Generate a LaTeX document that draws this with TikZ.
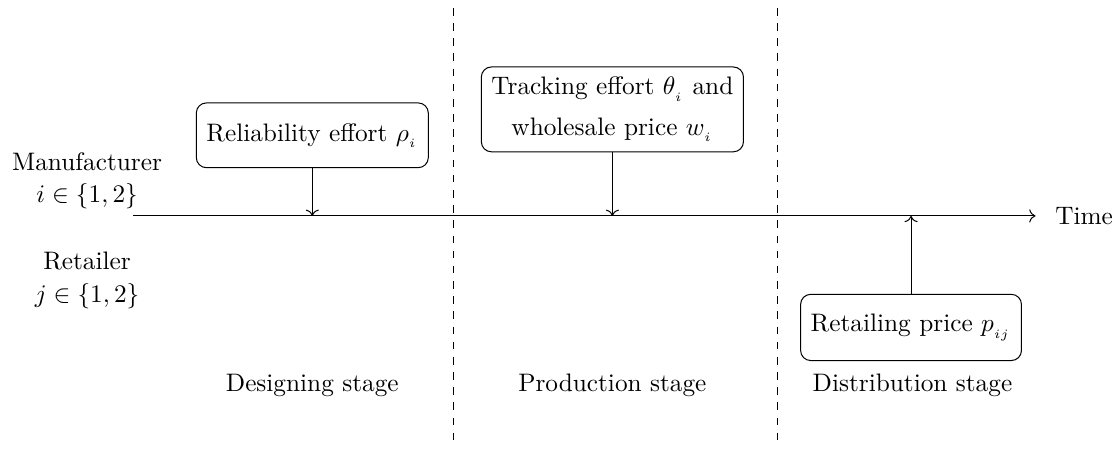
\documentclass[tikz,border=0pt]{standalone}
\usepackage{amsmath,amssymb}
\usepackage{tikz}
\usetikzlibrary{arrows.meta,positioning,calc}

\begin{document}
\begin{tikzpicture}[
    box/.style={rectangle, draw, rounded corners, align=center, inner sep=4pt},
    stage/.style={dashed},
    arrow/.style={->}
]
    \useasboundingbox (0,0) rectangle (15.55,-6.28);

    % --- Time axis ---
    \coordinate (t0) at (1.85,-3.0);
    \coordinate (t1) at (14.39,-3.0);
    \draw[arrow] (t0) -- (t1);
    \node[right=0.15cm of t1] (time) {Time};

    % --- Players ---
    \node (manu) at (1.21,-2.25) {Manufacturer};
    \node (manuset) at (1.21,-2.72) {$i\in\{1,2\}$};
    \node (ret) at (1.21,-3.63) {Retailer};
    \node (retset) at (1.21,-4.11) {$j\in\{1,2\}$};

    % --- Stage borders ---
    \coordinate (d1top) at (6.30,-0.11);
    \coordinate (d1bot) at (6.30,-6.21);
    \coordinate (d2top) at (10.81,-0.11);
    \coordinate (d2bot) at (10.81,-6.21);
    \draw[stage] (d1top) -- (d1bot);
    \draw[stage] (d2top) -- (d2bot);

    % --- Decisions ---
    \node[box, minimum width=3.22cm, minimum height=0.9cm] (rho) at (4.34,-1.88) {Reliability effort $\rho_{_i}$};
    \node[box, minimum width=3.64cm, minimum height=1.17cm] (theta) at (8.51,-1.52) {Tracking effort $\theta_{_i}$ and\\[4pt] wholesale price $w_{_i}$};
    \node[box, minimum width=3.06cm, minimum height=0.92cm] (price) at (12.66,-4.55) {Retailing price $p_{_{ij}}$};

    \draw[arrow] (rho.south) -- (rho.south |- t0);
    \draw[arrow] (theta.south) -- (theta.south |- t0);
    \draw[arrow] (price.north) -- (price.north |- t0);

    % --- Stage names ---
    \node (design) at (4.34,-5.35) {Designing stage};
    \node (prod) at (8.51,-5.35) {Production stage};
    \node (distr) at (12.68,-5.35) {Distribution stage};

\end{tikzpicture}
\end{document}
